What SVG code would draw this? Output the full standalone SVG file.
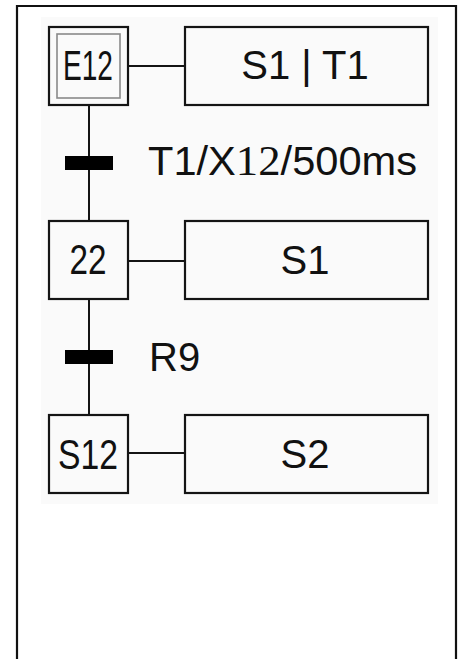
<svg xmlns="http://www.w3.org/2000/svg" width="460" height="659" viewBox="0 0 460 659">
<style>
.box{fill:none;stroke:#141414;stroke-width:2.2}
.inner{fill:none;stroke:#8a8a8a;stroke-width:1.6}
.ln{stroke:#141414;stroke-width:2;fill:none}
.bar{fill:#000}
.t{font-family:"Liberation Sans",Arial,sans-serif;font-size:40px;fill:#111}
.s{font-size:42px}
.c{text-anchor:middle}
.serif{font-family:"Liberation Serif","Times New Roman",serif;font-size:43px}
</style>
<rect x="0" y="0" width="460" height="659" fill="#ffffff"/>
<path d="M17 660 V6 H456 V660" fill="none" stroke="#111" stroke-width="2.2"/>
<rect x="41" y="17" width="397" height="487" fill="#fafafa"/>
<g id="connectors">
<line class="ln" x1="89" y1="105" x2="89" y2="221"/>
<line class="ln" x1="89" y1="299" x2="89" y2="415"/>
<line class="ln" x1="128" y1="66" x2="185" y2="66"/>
<line class="ln" x1="128" y1="261" x2="185" y2="261"/>
<line class="ln" x1="128" y1="453" x2="185" y2="453"/>
</g>
<g id="step-E12">
<rect class="box" x="49" y="27" width="79" height="78"/>
<rect class="inner" x="57" y="34" width="63" height="64"/>
<text class="t s c" x="88" y="80" textLength="50" lengthAdjust="spacingAndGlyphs">E12</text>
</g>
<g id="action-1">
<rect class="box" x="185" y="27" width="243" height="78"/>
<text class="t c" x="305" y="79">S1 | T1</text>
</g>
<g id="transition-1">
<rect class="bar" x="65" y="156" width="48" height="14"/>
<text class="t" x="148" y="175" textLength="269" lengthAdjust="spacingAndGlyphs">T1/X<tspan class="serif">12</tspan>/500ms</text>
</g>
<g id="step-22">
<rect class="box" x="49" y="221" width="79" height="78"/>
<text class="t s c" x="88" y="274" textLength="37" lengthAdjust="spacingAndGlyphs">22</text>
</g>
<g id="action-2">
<rect class="box" x="185" y="221" width="243" height="78"/>
<text class="t c" x="305" y="274">S1</text>
</g>
<g id="transition-2">
<rect class="bar" x="65" y="350" width="48" height="14"/>
<text class="t" x="149" y="371">R9</text>
</g>
<g id="step-S12">
<rect class="box" x="49" y="415" width="79" height="78"/>
<text class="t s c" x="88" y="469" textLength="60" lengthAdjust="spacingAndGlyphs">S12</text>
</g>
<g id="action-3">
<rect class="box" x="185" y="415" width="243" height="78"/>
<text class="t c" x="305" y="468">S2</text>
</g>
</svg>
